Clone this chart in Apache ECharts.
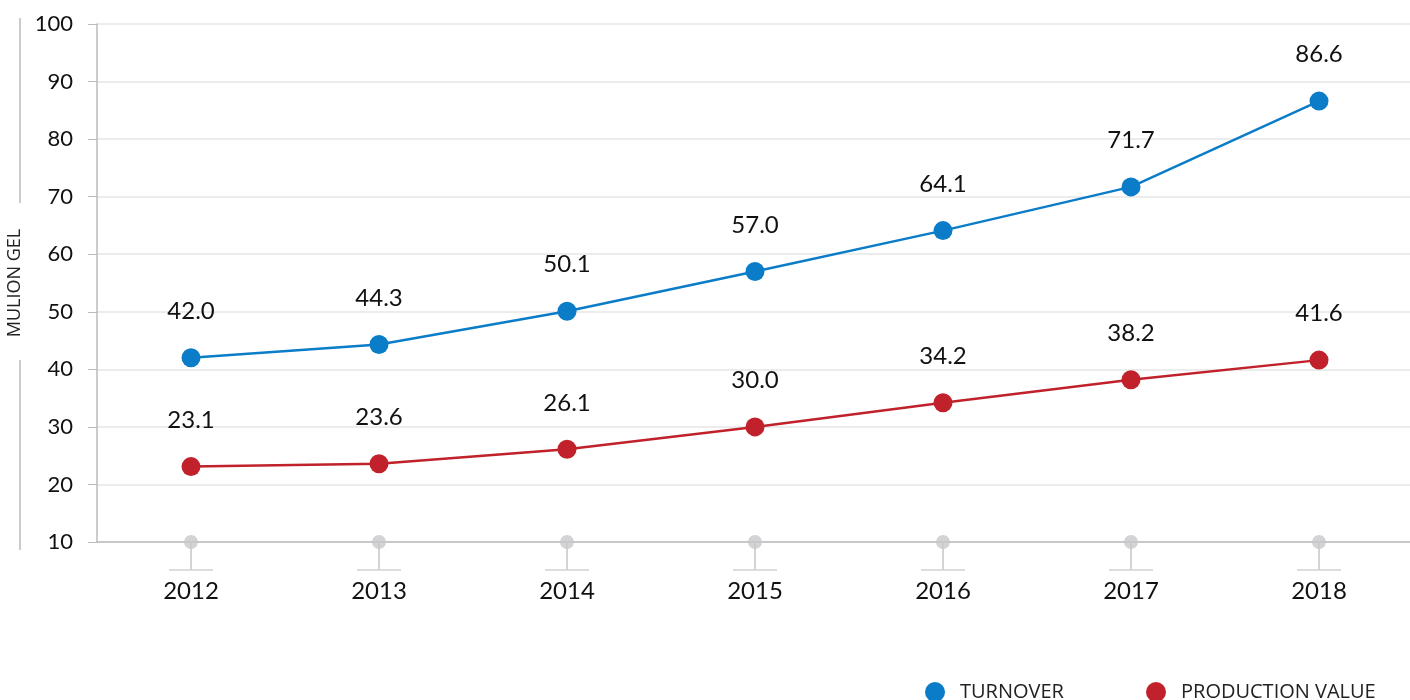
<!DOCTYPE html>
<html>
<head>
<meta charset="utf-8">
<script src="https://cdn.jsdelivr.net/npm/echarts@6/dist/echarts.min.js"></script>
<style>
  html, body { margin: 0; padding: 0; background: #fff; }
  #chart { width: 1410px; height: 700px; }
</style>
</head>
<body>
<div id="chart"></div>
<script>
const years = ['2012', '2013', '2014', '2015', '2016', '2017', '2018'];
const turnover = [42.0, 44.3, 50.1, 57.0, 64.1, 71.7, 86.6];
const productionValue = [23.1, 23.6, 26.1, 30.0, 34.2, 38.2, 41.6];
const yTicks = { min: 10, max: 100, interval: 10 };
const axisBase = years.map(() => yTicks.min); // gray dots sitting on the x axis

const FONT = 'Lato, "Open Sans", sans-serif';
const CAPS_FONT = '"Open Sans", sans-serif';

const chart = echarts.init(document.getElementById('chart'));

// 数值标签
function valueLabel () {
  return {
    show: true,
    position: 'top',
    distance: 25,
    color: '#111',
    fontFamily: FONT,
    fontSize: 24,
    formatter: p => p.value.toFixed(1)
  };
}

// 图例
function legendItem (name, left) {
  return {
    data: [name],
    left: left,
    top: 682,
    padding: 0,
    icon: 'circle',
    itemWidth: 20,
    itemHeight: 20,
    itemGap: 0,
    textStyle: { fontSize: 20, color: '#222', fontFamily: CAPS_FONT, padding: [0, 0, 0, 10] }
  };
}

const option = {
  animation: false,
  textStyle: { fontFamily: FONT },
  grid: { left: 97, right: -3, top: 24, bottom: 158, outerBoundsMode: 'none' },
  legend: [
    legendItem('TURNOVER', 925),
    legendItem('PRODUCTION VALUE', 1146)
  ],
  xAxis: {
    type: 'category',
    data: years,
    boundaryGap: true,
    axisLine: { lineStyle: { color: '#bbb', width: 1.5 } },
    axisTick: { show: true, alignWithLabel: true, length: 28, lineStyle: { color: '#d4d4d4', width: 2 } },
    axisLabel: { color: '#111', fontSize: 24, margin: 37, fontFamily: FONT }
  },
  yAxis: {
    type: 'value',
    min: yTicks.min,
    max: yTicks.max,
    interval: yTicks.interval,
    name: 'MULION GEL',
    nameLocation: 'middle',
    nameRotate: 90,
    nameGap: 62,
    nameTextStyle: { fontSize: 18, color: '#222', fontFamily: CAPS_FONT },
    axisLine: { show: true, lineStyle: { color: '#bbb', width: 1.5 } },
    axisTick: { show: true, length: 9, lineStyle: { color: '#bbb' } },
    axisLabel: { color: '#111', fontSize: 22, margin: 24, fontFamily: FONT },
    splitLine: { lineStyle: { color: '#e6e6e6', width: 1.5 } }
  },
  // 轴名称两侧的竖线
  graphic: [
    { type: 'line', shape: { x1: 20, y1: 18, x2: 20, y2: 203 }, style: { stroke: '#bbb', lineWidth: 1.5 } },
    { type: 'line', shape: { x1: 20, y1: 360, x2: 20, y2: 550 }, style: { stroke: '#bbb', lineWidth: 1.5 } }
  ],
  series: [
    {
      type: 'scatter',
      silent: true,
      data: axisBase,
      symbol: 'rect',
      symbolSize: [44, 2],
      symbolOffset: [0, 28],
      itemStyle: { color: '#d4d4d4' },
      z: 1
    },
    {
      type: 'scatter',
      silent: true,
      data: axisBase,
      symbol: 'circle',
      symbolSize: 14,
      itemStyle: { color: '#c8c8ca' },
      z: 3
    },
    {
      name: 'TURNOVER',
      type: 'line',
      data: turnover,
      symbol: 'circle',
      symbolSize: 19,
      lineStyle: { color: '#0a7cc8', width: 2.5 },
      itemStyle: { color: '#0a7cc8' },
      label: valueLabel(),
      z: 5
    },
    {
      name: 'PRODUCTION VALUE',
      type: 'line',
      data: productionValue,
      symbol: 'circle',
      symbolSize: 19,
      lineStyle: { color: '#c0212a', width: 2.5 },
      itemStyle: { color: '#c0212a' },
      label: valueLabel(),
      z: 5
    }
  ]
};

chart.setOption(option);
window.addEventListener('resize', () => { chart.resize(); });
</script>
</body>
</html>
